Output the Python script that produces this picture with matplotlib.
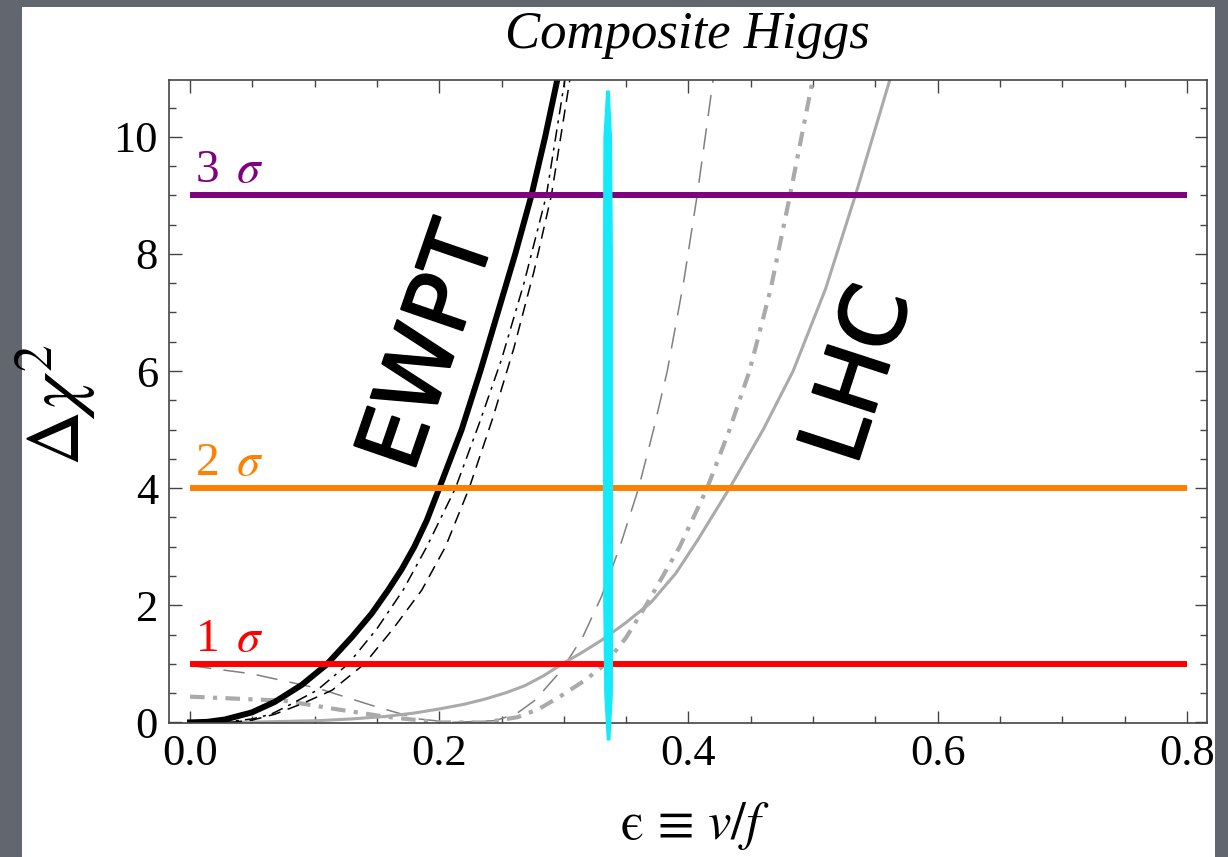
import numpy as np
import matplotlib.pyplot as plt
import matplotlib.patheffects as pe
from matplotlib.patches import Rectangle
from matplotlib.ticker import MultipleLocator, FormatStrFormatter

plt.rcParams['font.family'] = ['Liberation Serif', 'DejaVu Serif']
plt.rcParams['mathtext.fontset'] = 'stix'

# Niveles de confianza (lineas horizontales)
sigma_levels = [1, 4, 9]
sigma_labels = ['1 $\\,\\sigma$', '2 $\\,\\sigma$', '3 $\\,\\sigma$']
sigma_colors = ['#ff0000', '#ff8000', '#800080']
sigma_eps = [0.0, 0.8]

# EWPT (negro)
ewpt_solid_eps = [0, 0.014, 0.028, 0.0495, 0.068, 0.0896, 0.1097, 0.13, 0.1458, 0.159, 0.17, 0.18, 0.19, 0.2,
                  0.218, 0.233, 0.247, 0.261, 0.274, 0.285, 0.295]
ewpt_solid_chi = [0, 0.01, 0.05, 0.17, 0.35, 0.64, 0.99, 1.46, 1.86, 2.26, 2.62, 3.0, 3.45, 4,
                  5, 6, 7, 8, 9, 10, 11]

ewpt_dashdot_eps = [0, 0.03, 0.05, 0.065, 0.08, 0.102, 0.127, 0.15, 0.171, 0.19, 0.213, 0.232, 0.25, 0.268, 0.286, 0.301]
ewpt_dashdot_chi = [0, 0.01, 0.06, 0.14, 0.3, 0.55, 1, 1.6, 2.26, 3, 4, 5.1, 6.2, 7.5, 9, 11]

ewpt_dash_eps = [0, 0.035, 0.05, 0.068, 0.09, 0.114, 0.14, 0.163, 0.186, 0.205, 0.224, 0.243, 0.26, 0.276, 0.29, 0.305]
ewpt_dash_chi = [0, 0.005, 0.04, 0.14, 0.32, 0.55, 1, 1.6, 2.26, 3, 4, 5.2, 6.4, 7.7, 9, 11]

# LHC (gris)
lhc_dash_eps = [0, 0.0495, 0.103, 0.146, 0.183, 0.21, 0.245, 0.262, 0.277, 0.298, 0.315, 0.330, 0.345, 0.36, 0.372, 0.383, 0.396, 0.407, 0.42]
lhc_dash_chi = [0.97, 0.83, 0.58, 0.29, 0.06, 0.0, 0.03, 0.15, 0.38, 0.89, 1.45, 2.14, 3, 4, 5, 6, 7.5, 9, 11]

lhc_dashdot_eps = [0, 0.076, 0.116, 0.156, 0.2, 0.237, 0.263, 0.28, 0.296, 0.317, 0.333, 0.35, 0.366, 0.393, 0.415, 0.433, 0.449, 0.466, 0.4815, 0.50]
lhc_dashdot_chi = [0.44, 0.37, 0.23, 0.10, 0.0, 0.0, 0.09, 0.23, 0.43, 0.72, 0.99, 1.45, 2, 3, 4, 5, 6, 7.4, 9, 11]

lhc_solid_eps = [0, 0.05, 0.103, 0.13, 0.156, 0.18, 0.2, 0.22, 0.237, 0.254, 0.269, 0.284, 0.298, 0.315, 0.330, 0.349,
                 0.37, 0.39, 0.407, 0.433, 0.46, 0.484, 0.51, 0.534, 0.562]
lhc_solid_chi = [0, 0.005, 0.03, 0.06, 0.1, 0.16, 0.23, 0.31, 0.4, 0.51, 0.63, 0.8, 0.99, 1.2, 1.4, 1.69,
                 2.05, 2.55, 3.1, 4, 5, 6, 7.4, 9, 11]

# Trazo cian dibujado a mano
cyan_chi = [-0.3, 0.5, 2, 5, 8, 10, 10.8]
cyan_eps = [0.3355, 0.3355, 0.3352, 0.3350, 0.3350, 0.3348, 0.3350]
cyan_half = [0.0015, 0.0035, 0.0040, 0.0040, 0.0040, 0.0035, 0.0015]

fig = plt.figure(figsize=(12.28, 8.57), dpi=100)
fig.patch.set_facecolor('#62666f')
fig.add_artist(Rectangle((22 / 1228, 0), (1215 - 22) / 1228, 1 - 7 / 857,
                         transform=fig.transFigure, facecolor='white',
                         edgecolor='none', zorder=-1))

ax = fig.add_axes([169 / 1228, 1 - 723 / 857, (1207 - 169) / 1228, (723 - 80) / 857])
ax.set_xlim(-0.0169, 0.8162)
ax.set_ylim(-0.01, 10.97)

# Curvas LHC
ax.plot(lhc_dash_eps, lhc_dash_chi, color='#808080', lw=1.1, dashes=(14, 8))
ax.plot(lhc_dashdot_eps, lhc_dashdot_chi, color='#aaaaaa', lw=3.0, dashes=(3.5, 2, 1, 2))
ax.plot(lhc_solid_eps, lhc_solid_chi, color='#aaaaaa', lw=2.2)

# Curvas EWPT
ax.plot(ewpt_dash_eps, ewpt_dash_chi, color='black', lw=1.1, dashes=(8, 5))
ax.plot(ewpt_dashdot_eps, ewpt_dashdot_chi, color='black', lw=1.1, dashes=(8, 4, 2, 4))
ax.plot(ewpt_solid_eps, ewpt_solid_chi, color='black', lw=4.3)

# Lineas sigma
for lev, lab, col in zip(sigma_levels, sigma_labels, sigma_colors):
    ax.plot(sigma_eps, [lev, lev], color=col, lw=4.3, solid_capstyle='butt')
    ax.text(0.004, lev + 0.22, lab, color=col, fontsize=34, va='baseline', ha='left')

# Trazo cian
ce = np.array(cyan_eps)
ch = np.array(cyan_half)
ax.fill_betweenx(cyan_chi, ce - ch, ce + ch, color='#14eafa', lw=0, clip_on=False, zorder=5)

stroke = [pe.withStroke(linewidth=1.5, foreground='black', capstyle='round', joinstyle='round')]
ax.text(0.193, 6.4, 'EWPT', rotation=71, ha='center', va='center',
        fontsize=64, family='DejaVu Sans', zorder=6, path_effects=stroke)
ax.text(0.538, 5.93, 'LHC', rotation=72, ha='center', va='center',
        fontsize=64, family='DejaVu Sans', zorder=6, path_effects=stroke)

# Ejes estilo Mathematica
ax.xaxis.set_major_locator(MultipleLocator(0.2))
ax.xaxis.set_minor_locator(MultipleLocator(0.05))
ax.xaxis.set_major_formatter(FormatStrFormatter('%.1f'))
ax.yaxis.set_major_locator(MultipleLocator(2))
ax.yaxis.set_minor_locator(MultipleLocator(0.5))
ax.yaxis.set_major_formatter(FormatStrFormatter('%d'))
ax.tick_params(which='both', direction='in', top=True, right=True, color='#444444', width=1.0)
ax.tick_params(which='major', length=9, labelsize=32)
ax.tick_params(which='minor', length=5)
ax.tick_params(axis='x', pad=8)
ax.tick_params(axis='y', pad=8)
for s in ax.spines.values():
    s.set_color('#444444')
    s.set_linewidth(1.2)

fig.text(0.560, 0.944, 'Composite Higgs', fontsize=38, style='italic', ha='center', va='baseline')
fig.text(0.566, 0.036, '$\\mathrm{\u03f5}\\,\\equiv\\,v/f$', fontsize=38, ha='center', va='center')
fig.text(0.045, 0.527, r'$\Delta\chi^2$', fontsize=55, ha='center', va='center', rotation=90)

plt.savefig('out.png', dpi=100, facecolor=fig.get_facecolor())
